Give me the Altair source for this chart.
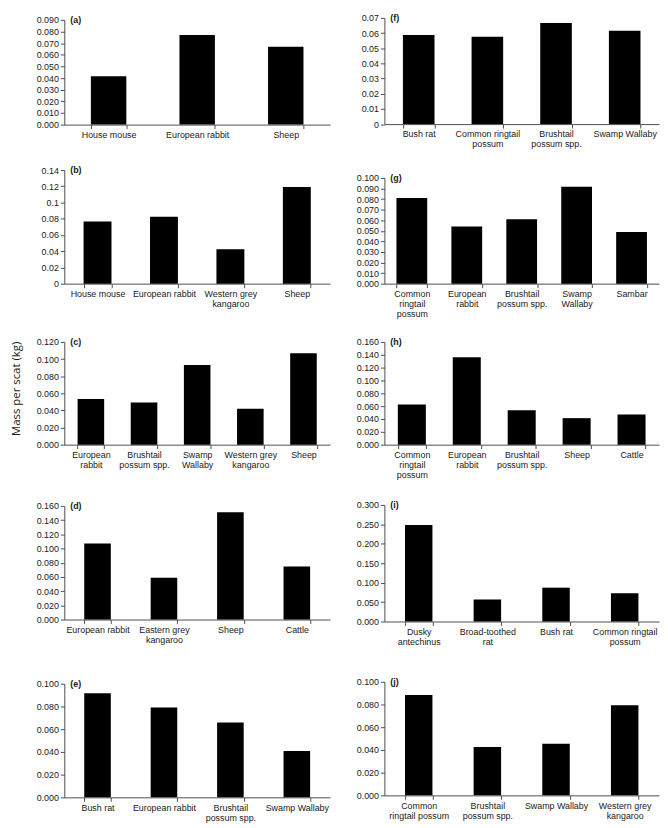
import altair as alt
import pandas as pd

# ---------------- data ----------------
cats_a = ["House mouse", "European rabbit", "Sheep"]
vals_a = [0.0416, 0.0770, 0.0670]

cats_b = ["House mouse", "European rabbit", "Western grey|kangaroo", "Sheep"]
vals_b = [0.0766, 0.0823, 0.0423, 0.1190]

cats_c = ["European|rabbit", "Brushtail|possum spp.", "Swamp|Wallaby", "Western grey|kangaroo", "Sheep"]
vals_c = [0.0533, 0.0494, 0.0931, 0.0421, 0.1069]

cats_d = ["European rabbit", "Eastern grey|kangaroo", "Sheep", "Cattle"]
vals_d = [0.1070, 0.0589, 0.1510, 0.0747]

cats_e = ["Bush rat", "European rabbit", "Brushtail|possum spp.", "Swamp Wallaby"]
vals_e = [0.0916, 0.0791, 0.0658, 0.0409]

cats_f = ["Bush rat", "Common ringtail|possum", "Brushtail|possum spp.", "Swamp Wallaby"]
vals_f = [0.0587, 0.0575, 0.0666, 0.0616]

cats_g = ["Common|ringtail|possum", "European|rabbit", "Brushtail|possum spp.", "Swamp|Wallaby", "Sambar"]
vals_g = [0.0810, 0.0540, 0.0610, 0.0916, 0.0488]

cats_h = ["Common|ringtail|possum", "European|rabbit", "Brushtail|possum spp.", "Sheep", "Cattle"]
vals_h = [0.0627, 0.1360, 0.0536, 0.0413, 0.0469]

cats_i = ["Dusky|antechinus", "Broad-toothed|rat", "Bush rat", "Common ringtail|possum"]
vals_i = [0.2485, 0.0566, 0.0870, 0.0727]

cats_j = ["Common|ringtail possum", "Brushtail|possum spp.", "Swamp Wallaby", "Western grey|kangaroo"]
vals_j = [0.0884, 0.0426, 0.0455, 0.0794]

panel_labels = ["(a)", "(b)", "(c)", "(d)", "(e)", "(f)", "(g)", "(h)", "(i)", "(j)"]

# y-axis tick labels per panel
ticks_a = ["0.000", "0.010", "0.020", "0.030", "0.040", "0.050", "0.060", "0.070", "0.080", "0.090"]
ticks_b = ["0", "0.02", "0.04", "0.06", "0.08", "0.1", "0.12", "0.14"]
ticks_c = ["0.000", "0.020", "0.040", "0.060", "0.080", "0.100", "0.120"]
ticks_d = ["0.000", "0.020", "0.040", "0.060", "0.080", "0.100", "0.120", "0.140", "0.160"]
ticks_e = ["0.000", "0.020", "0.040", "0.060", "0.080", "0.100"]
ticks_f = ["0", "0.01", "0.02", "0.03", "0.04", "0.05", "0.06", "0.07"]
ticks_g = ["0.000", "0.010", "0.020", "0.030", "0.040", "0.050", "0.060", "0.070", "0.080", "0.090", "0.100"]
ticks_h = ["0.000", "0.020", "0.040", "0.060", "0.080", "0.100", "0.120", "0.140", "0.160"]
ticks_i = ["0.000", "0.050", "0.100", "0.150", "0.200", "0.250", "0.300"]
ticks_j = ["0.000", "0.020", "0.040", "0.060", "0.080", "0.100"]

y_title = "Mass per scat (kg)"

AXIS_COLOR = "#4d4d4d"
LABEL_COLOR = "#1a1a1a"
FONT = "Liberation Sans"


def panel(cats, vals, ticks, label, width, height, pad_inner, title=False):
    df = pd.DataFrame({"cat": cats, "val": vals})
    tick_vals = [float(t) for t in ticks]
    fmt = ".3f" if len(ticks[0]) > 1 else ".2~f"
    yaxis = dict(
        values=tick_vals,
        format=fmt,
        grid=False,
        tickSize=4,
        labelPadding=2,
        labelFontSize=9,
        domainColor=AXIS_COLOR,
        tickColor=AXIS_COLOR,
        labelColor=LABEL_COLOR,
        labelFont=FONT,
    )
    if title:
        yaxis.update(
            title=y_title,
            titleFont="Open Sans",
            titleFontSize=11.5,
            titleFontWeight="normal",
            titleColor=LABEL_COLOR,
            titleAngle=270,
            titleBaseline="middle",
            titleAlign="center",
            titleX=-48,
            titleY=47,
        )
    else:
        yaxis["title"] = None
    bars = alt.Chart(df).mark_bar(color="black").encode(
        x=alt.X(
            "cat:N",
            sort=cats,
            scale=alt.Scale(paddingInner=pad_inner, paddingOuter=pad_inner / 2),
            axis=alt.Axis(
                title=None,
                labelAngle=0,
                labelExpr="split(datum.label, '|')",
                labelLineHeight=10,
                labelFontSize=9,
                labelFont=FONT,
                labelColor=LABEL_COLOR,
                labelPadding=2,
                labelLimit=300,
                tickBand="extent",
                tickSize=4,
                domainColor=AXIS_COLOR,
                tickColor=AXIS_COLOR,
            ),
        ),
        y=alt.Y(
            "val:Q",
            scale=alt.Scale(domain=[0, tick_vals[-1]], nice=False, zero=True),
            axis=alt.Axis(**yaxis),
        ),
    )
    txt = alt.Chart(pd.DataFrame({"lab": [label]})).mark_text(
        align="left", baseline="middle", fontSize=9, fontWeight="bold",
        font=FONT, color=LABEL_COLOR
    ).encode(x=alt.value(6), y=alt.value(0), text="lab:N")
    return alt.layer(bars, txt).properties(width=width, height=height)


def spacer(width, height):
    return alt.Chart(pd.DataFrame({"s": [0]})).mark_point(size=0, opacity=0).encode(
        x=alt.value(0), y=alt.value(0)
    ).properties(width=width, height=height)


WL = 269
WR = 278

left = alt.vconcat(
    spacer(WL, 2),
    panel(cats_a, vals_a, ticks_a, panel_labels[0], WL, 106, 0.6),
    spacer(WL, 46),
    panel(cats_b, vals_b, ticks_b, panel_labels[1], WL, 115, 0.58),
    spacer(WL, 59),
    panel(cats_c, vals_c, ticks_c, panel_labels[2], WL, 104, 0.5, title=True),
    spacer(WL, 62),
    panel(cats_d, vals_d, ticks_d, panel_labels[3], WL, 115, 0.6),
    spacer(WL, 65),
    panel(cats_e, vals_e, ticks_e, panel_labels[4], WL, 115, 0.6),
    spacing=0,
    bounds="flush",
)
right = alt.vconcat(
    panel(cats_f, vals_f, ticks_f, panel_labels[5], WR, 107.5, 0.54),
    spacer(WR, 54),
    panel(cats_g, vals_g, ticks_g, panel_labels[6], WR, 107, 0.44),
    spacer(WR, 59),
    panel(cats_h, vals_h, ticks_h, panel_labels[7], WR, 104, 0.49),
    spacer(WR, 61),
    panel(cats_i, vals_i, ticks_i, panel_labels[8], WR, 118, 0.6),
    spacer(WR, 61),
    panel(cats_j, vals_j, ticks_j, panel_labels[9], WR, 115, 0.6),
    spacing=0,
    bounds="flush",
)

chart = alt.hconcat(left, right, spacing=24).properties(
    padding={"top": 0, "left": 2, "right": 0, "bottom": 0}
).configure_view(stroke="transparent")

chart.save("out.html", embed_options={"renderer": "svg", "actions": False})
